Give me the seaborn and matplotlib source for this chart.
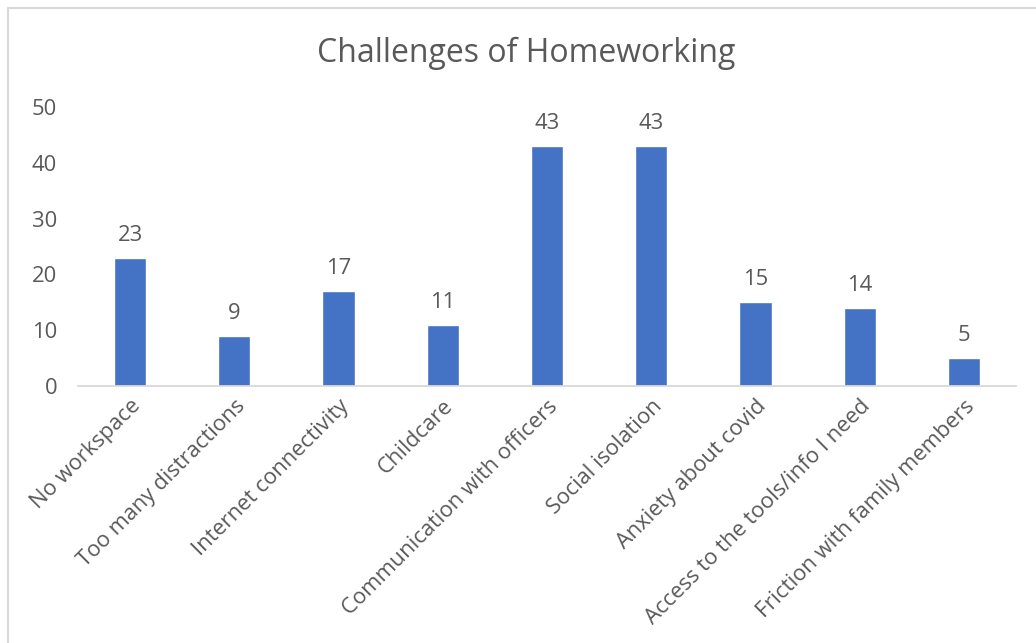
import matplotlib
matplotlib.use("Agg")
import matplotlib.pyplot as plt
import seaborn as sns
import pandas as pd
from matplotlib.lines import Line2D

categories = ["No workspace", "Too many distractions", "Internet connectivity", "Childcare",
              "Communication with officers", "Social isolation", "Anxiety about covid",
              "Access to the tools/info I need", "Friction with family members"]
values = [23, 9, 17, 11, 43, 43, 15, 14, 5]
yticks = [0, 10, 20, 30, 40, 50]
title = "Challenges of Homeworking"

sns.set_theme(style="white")
plt.rcParams['font.family'] = ['Open Sans', 'DejaVu Sans']

W, H = 1036, 643
fig = plt.figure(figsize=(W / 100, H / 100), dpi=100)
ax = fig.add_axes([78 / W, 1 - 386 / H, (1016 - 78) / W, (386 - 107) / H])

df = pd.DataFrame({"cat": categories, "val": values})
sns.barplot(data=df, x="cat", y="val", color="#4472C4", width=0.31, saturation=1, ax=ax)

txt = "#595959"
fs = 15.8
ax.set_ylim(0, 50)
ax.set_xlim(-0.5, len(categories) - 0.5)
ax.set_yticks(yticks)
ax.set_yticklabels([str(t) for t in yticks], fontsize=fs, color=txt)
ax.set_xlabel("")
ax.set_ylabel("")
ax.tick_params(axis="y", length=0, pad=15)
ax.tick_params(axis="x", length=0, pad=7)
ax.set_xticks(range(len(categories)))
ax.set_xticklabels(categories, rotation=45, ha="right", rotation_mode="anchor",
                   fontsize=fs, color=txt)
for s in ["top", "right", "left"]:
    ax.spines[s].set_visible(False)
ax.spines["bottom"].set_color("#d9d9d9")
ax.spines["bottom"].set_linewidth(1.3)

for i, v in enumerate(values):
    ax.annotate(str(v), (i, v), xytext=(0, 8.5), textcoords="offset points",
                ha="center", va="bottom", fontsize=fs, color=txt)

fig.text(526 / W, 1 - 53 / H, title, ha="center", va="center", fontsize=23, color=txt)

# chart frame (top and left edges visible)
fig.add_artist(Line2D([7.5 / W, 1.0], [1 - 8 / H, 1 - 8 / H], transform=fig.transFigure,
                      color="#d9d9d9", lw=1.5))
fig.add_artist(Line2D([7.5 / W, 7.5 / W], [0, 1 - 8 / H], transform=fig.transFigure,
                      color="#d9d9d9", lw=1.5))

fig.savefig("out.png", dpi=100, facecolor="white")
